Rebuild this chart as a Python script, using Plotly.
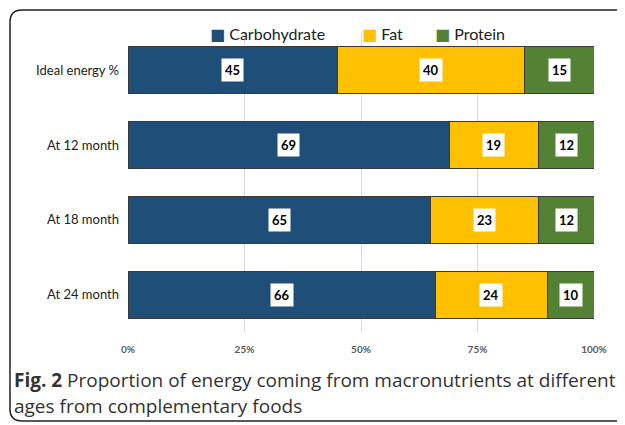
import plotly.graph_objects as go

categories = ["Ideal energy %", "At 12 month", "At 18 month", "At 24 month"]
carbohydrate = [45, 69, 65, 66]
fat = [40, 19, 23, 24]
protein = [15, 12, 12, 10]
series_names = ["Carbohydrate", "Fat", "Protein"]
tick_vals = [0, 25, 50, 75, 100]
tick_text = ["0%", "25%", "50%", "75%", "100%"]

colors = ["#1F4E79", "#FFC000", "#548235"]
series = [carbohydrate, fat, protein]

OFF = 8  # default page body margin
W, H = 625 - OFF, 425 - OFF
ML, MT = 128 - OFF, 33 - OFF
MR = W - (594 - OFF)
MB = H - (332 - OFF)
PW, PH = W - ML - MR, H - MT - MB

def px2paper(px, py):
    """screen pixel -> paper coords"""
    fx, fy = px - OFF, py - OFF
    return (fx - ML) / PW, (H - MB - fy) / PH

fig = go.Figure()
for name, vals, col in zip(series_names, series, colors):
    fig.add_trace(go.Bar(
        y=categories, x=vals, name=name, orientation="h",
        marker=dict(color=col, line=dict(color="#3a3a3a", width=1)),
        width=0.63, hoverinfo="x+y", showlegend=False,
    ))

# data labels
for i, cat in enumerate(categories):
    base = 0
    for vals in series:
        v = vals[i]
        fig.add_annotation(
            x=base + v / 2, y=cat, xref="x", yref="y", text="<b>%d</b>" % v,
            showarrow=False, bgcolor="white", borderpad=3,
            font=dict(family="Lato, DejaVu Sans", size=13, color="black"),
        )
        base += v

# legend (top)
legend_x = [208, 360, 433]
for name, col, lx in zip(series_names, colors, legend_x):
    ax, ay = px2paper(lx, 33)
    fig.add_annotation(x=ax, y=ay, xref="paper", yref="paper", xanchor="left", yanchor="middle",
                       text="<span style='color:%s'>■</span> %s" % (col, name), showarrow=False,
                       font=dict(family="Lato, DejaVu Sans", size=16, color="#222222"))

# caption
x0, y1 = px2paper(12, 380)
_, y2 = px2paper(0, 406)
fig.add_annotation(x=x0, y=y1, xref="paper", yref="paper", xanchor="left", yanchor="middle",
                   text="<b>Fig. 2</b> Proportion of energy coming from macronutrients at different",
                   showarrow=False, font=dict(family="Open Sans", size=19, color="#333333"))
fig.add_annotation(x=x0, y=y2, xref="paper", yref="paper", xanchor="left", yanchor="middle",
                   text="ages from complementary foods",
                   showarrow=False, font=dict(family="Open Sans", size=19, color="#333333"))

# rounded border
r = 12
L, T, B, R = 10, 10, 421, 660
def P(px, py):
    a, b = px2paper(px, py)
    return "%.5f,%.5f" % (a, b)
path = ("M %s L %s Q %s %s L %s Q %s %s L %s" % (
    P(R, T), P(L + r, T), P(L, T), P(L, T + r), P(L, B - r), P(L, B), P(L + r, B), P(R, B)))
fig.add_shape(type="path", path=path, xref="paper", yref="paper",
              line=dict(color="#222222", width=1.5), layer="above")

fig.update_layout(
    width=W, height=H, margin=dict(l=ML, r=MR, t=MT, b=MB, autoexpand=False),
    barmode="stack", bargap=0.37,
    plot_bgcolor="white", paper_bgcolor="white",
    showlegend=False,
    xaxis=dict(range=[0, 100], tickvals=tick_vals, ticktext=tick_text,
               showgrid=True, gridcolor="#D9D9D9", gridwidth=1, zeroline=False,
               tickfont=dict(family="Lato, DejaVu Sans", size=10, color="#595959", weight="bold"),
               ticklabelstandoff=10, showline=False),
    yaxis=dict(categoryorder="array", categoryarray=categories, autorange="reversed",
               tickfont=dict(family="Lato, DejaVu Sans", size=13, color="#222222"),
               ticklabelstandoff=8, showgrid=False, showline=False),
)

fig.write_html("out.html")
